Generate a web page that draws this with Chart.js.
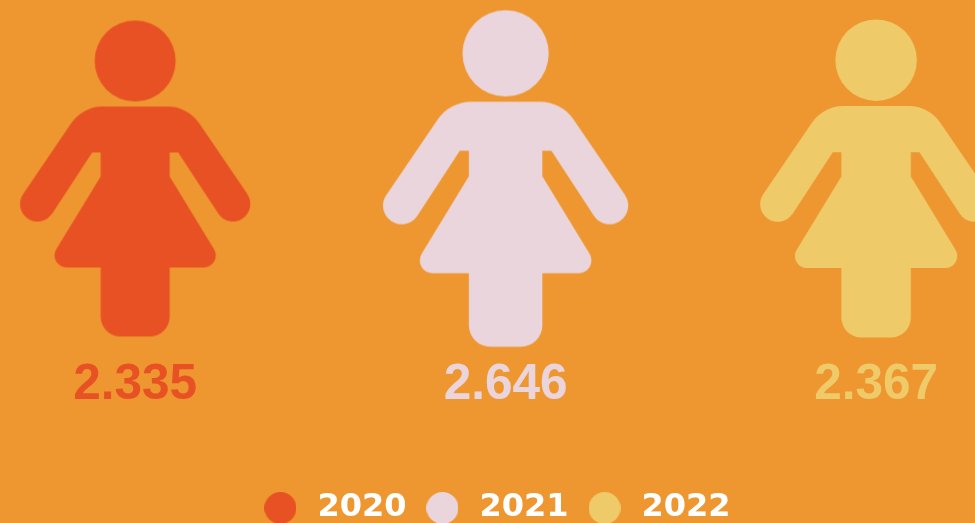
<!DOCTYPE html>
<html>
<head>
<meta charset="utf-8">
<style>
    html, body { margin: 0; padding: 0; background: #EE9730; overflow: hidden; }
    canvas { display: block; }
</style>
<script src="https://cdn.jsdelivr.net/npm/chart.js@4"></script>
</head>
<body>
<canvas id="womenChart" width="975" height="523"></canvas>
<script>
const years = ['2020', '2021', '2022'];
const values = [2335, 2646, 2367];
const valueLabels = ['2.335', '2.646', '2.367'];
const colors = ['#E75124', '#EAD5DC', '#EFCA68'];

const BASE_VALUE = 2335; // the figure below is drawn at this value
const LABEL_OFFSET = 207;

// Woman pictogram around (0,0), area follows the value
function figurePath() {
    const p = new Path2D();
    p.arc(0, -117.5, 40.5, 0, Math.PI * 2);
    p.moveTo(0, -72);
    // right side, going down
    p.arcTo(52.5, -72, 112.2, 15.6, 38);
    p.lineTo(112.2, 15.6);
    p.arc(97.7, 25.5, 17.5, -0.598, 2.543);
    p.lineTo(43, -26);
    p.lineTo(34.5, -26);
    p.lineTo(34.5, -2);
    p.arcTo(90, 89, 34.5, 89, 12);
    p.lineTo(34.5, 89);
    p.arcTo(34.5, 158, 0, 158, 20);
    // left side, going up
    p.arcTo(-34.5, 158, -34.5, 89, 20);
    p.lineTo(-34.5, 89);
    p.arcTo(-90, 89, -34.5, -2, 12);
    p.lineTo(-34.5, -2);
    p.lineTo(-34.5, -26);
    p.lineTo(-43, -26);
    p.lineTo(-83.2, 35.4);
    p.arc(-97.7, 25.5, 17.5, Math.PI - 2.543, Math.PI + 0.598);
    p.arcTo(-52.5, -72, 0, -72, 38);
    p.closePath();
    return p;
}

function makeFigure(value, color) {
    const scale = Math.sqrt(value / BASE_VALUE);
    const c = document.createElement('canvas');
    c.width = Math.ceil(260 * scale);
    c.height = Math.ceil(340 * scale);
    const ctx = c.getContext('2d');
    ctx.translate(c.width / 2, c.height / 2);
    ctx.scale(scale, scale);
    ctx.fillStyle = color;
    ctx.fill(figurePath());
    return c;
}

function makeDot(color) {
    const c = document.createElement('canvas');
    c.width = 32;
    c.height = 32;
    const ctx = c.getContext('2d');
    ctx.fillStyle = color;
    ctx.beginPath();
    ctx.arc(16, 16, 16, 0, Math.PI * 2);
    ctx.fill();
    return c;
}

// Value under each figure
const valueLabelPlugin = {
    id: 'valueLabels',
    afterDatasetsDraw(chart) {
        const ctx = chart.ctx;
        ctx.save();
        ctx.font = 'bold 49.5px "Liberation Sans"';
        ctx.textAlign = 'center';
        ctx.textBaseline = 'middle';
        chart.data.datasets.forEach(function(ds, i) {
            const point = chart.getDatasetMeta(i).data[0];
            ctx.fillStyle = colors[i];
            ctx.fillText(valueLabels[i], point.x, point.y + LABEL_OFFSET);
        });
        ctx.restore();
    }
};

new Chart(document.getElementById('womenChart'), {
    type: 'scatter',
    data: {
        datasets: years.map(function(year, i) {
            return {
                label: year,
                data: [{ x: i, y: 1 }],
                pointStyle: makeFigure(values[i], colors[i]),
                backgroundColor: colors[i],
                clip: false
            };
        })
    },
    options: {
        responsive: false,
        animation: false,
        layout: { padding: { left: 15, bottom: -11 } },
        scales: {
            x: { type: 'linear', display: false, min: -0.3243, max: 2.2535 },
            y: { type: 'linear', display: false, min: 0, max: 1.581 }
        },
        plugins: {
            tooltip: { enabled: false },
            legend: {
                position: 'bottom',
                labels: {
                    usePointStyle: true,
                    pointStyleWidth: 42,
                    padding: 15,
                    color: '#FFFFFF',
                    font: { family: '"DejaVu Sans"', weight: 'bold', size: 32 },
                    generateLabels(chart) {
                        return Chart.defaults.plugins.legend.labels.generateLabels(chart).map(function(item, i) {
                            item.pointStyle = makeDot(colors[i]);
                            return item;
                        });
                    }
                }
            }
        }
    },
    plugins: [valueLabelPlugin]
});
</script>
</body>
</html>
